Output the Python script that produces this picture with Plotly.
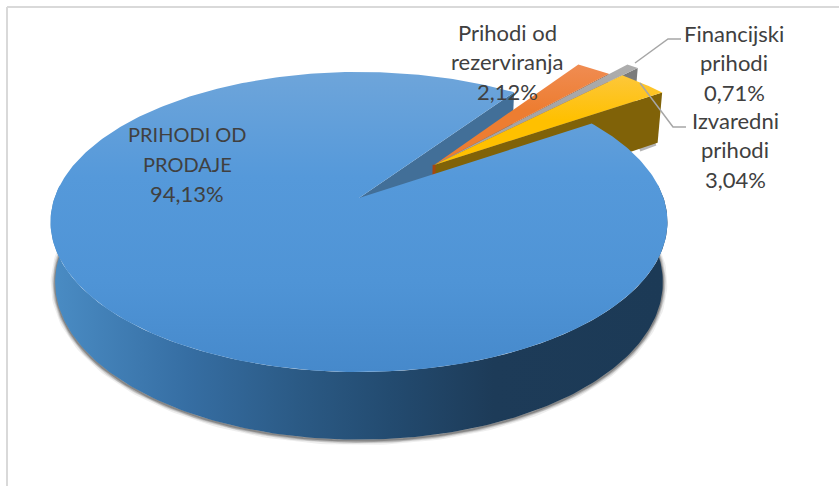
import numpy as np
import plotly.graph_objects as go

names = ["PRIHODI OD PRODAJE", "Prihodi od rezerviranja", "Financijski prihodi", "Izvaredni prihodi"]
values = [94.13, 2.12, 0.71, 3.04]

label_lines = [["PRIHODI OD", "PRODAJE"], ["Prihodi od", "rezerviranja"], ["Financijski", "prihodi"], ["Izvaredni", "prihodi"]]
label_x = [187, 507, 734, 735]
label_y = [134, 32, 33, 120]

top_colors = [None, ["#f08c52", "#ed7d31"], ["#adadad", "#a5a5a5"], ["#fdc73a", "#ffc000"]]
cut_colors = ["#426f98", "#a8470f", "#7b7b7b", "#806208"]
reach = [1.0, 1.02, 1.14, 1.045]

# perspective of the pie, in pixels of the page
cx, cy = 359, 198
rx, ry = 304.5, 146.2
persp = 0.16
depth = 59
bottom_scale = 0.985
first_angle = 56.3
explode = (0.256, -0.235)


def project(a, r=1.0, off=(0, 0), low=False, wall=1.0):
    a = np.radians(a)
    wx = off[0] + r * np.sin(a)
    wd = off[1] - r * np.cos(a)
    k = 1 - persp * wd
    sx = rx * wx / k
    sy = ry * wd / k
    if low:
        return cx + sx * bottom_scale, cy + sy * bottom_scale + depth * wall / k
    return cx + sx, cy + sy


def poly(fig, x, y, color=None, gradient=None):
    x = np.concatenate([np.atleast_1d(v) for v in x])
    y = np.concatenate([np.atleast_1d(v) for v in y])
    kw = dict(fillcolor=color) if color else dict(fillgradient=gradient)
    fig.add_trace(go.Scatter(x=x, y=y, mode="lines", fill="toself", line=dict(width=0),
                             hoverinfo="skip", showlegend=False, **kw))


fig = go.Figure()

spans = [v / sum(values) * 360 for v in values]
starts = [first_angle]
for s in spans[:-1]:
    starts.append((starts[-1] + s))
ends = [s + w for s, w in zip(starts, spans)]

# shadow under the outer wall
t = np.linspace(85, 275, 200)
sx, sy = project(t, low=True)
for w, alpha in zip([9, 6, 4, 2], [0.08, 0.14, 0.2, 0.3]):
    fig.add_trace(go.Scatter(x=sx, y=sy + 1, mode="lines", line=dict(width=w, color=f"rgba(40,40,40,{alpha})"),
                             hoverinfo="skip", showlegend=False))

# cut face of the big slice, seen through the gap
x0, y0 = project(ends[0])
xb, yb = project(ends[0], low=True)
xc, yc = project(0, 0, low=True)
poly(fig, [cx, x0, xb, xc], [cy, y0, yb, yc], color=cut_colors[0])

# shadow of the exploded yellow wall
xs, ys = project(ends[3], reach[3], explode, low=True, wall=0.93)
fig.add_trace(go.Scatter(x=[xs - 18, xs - 2], y=[ys + 7, ys + 1], mode="lines",
                         line=dict(width=4, color="rgba(40,40,40,0.35)"), hoverinfo="skip", showlegend=False))

# the three exploded slices, back to front
tx, ty = project(0, 0, explode)
lx, ly = project(0, 0, explode, low=True, wall=0.93)
for i in [1, 2, 3]:
    ex, ey = project(ends[i], reach[i], explode)
    bx, by = project(ends[i], reach[i], explode, low=True, wall=0.93)
    poly(fig, [tx, ex, bx, lx], [ty, ey, by, ly], color=cut_colors[i])

    a = np.linspace(starts[i], ends[i], 20)
    rimx, rimy = project(a, reach[i], explode)
    poly(fig, [tx, rimx], [ty, rimy], gradient=dict(
        type="vertical", colorscale=[[0, top_colors[i][0]], [1, top_colors[i][1]]],
        start=float(rimy.min()), stop=float(rimy.min()) + 45))

# red-brown sliver of the orange wall at the tip
fig.add_trace(go.Scatter(x=[tx, lx], y=[ty, ly], mode="lines", line=dict(width=3, color=cut_colors[1]),
                         hoverinfo="skip", showlegend=False))

# outer wall of the big slice
t = np.linspace(85, 275, 200)
ox, oy = project(t)
bx, by = project(t, low=True)
poly(fig, [ox, bx[::-1]], [oy, by[::-1]], gradient=dict(
    type="horizontal",
    colorscale=[[0, "#4a8cc4"], [0.22, "#366ea3"], [0.4, "#2b5a85"], [0.55, "#234b70"], [0.72, "#1d3b58"], [1, "#1c3a56"]],
    start=52, stop=666))

# top of the big slice
a = np.linspace(starts[0], ends[0], 400)
rimx, rimy = project(a)
poly(fig, [cx, rimx], [cy, rimy], gradient=dict(
    type="vertical",
    colorscale=[[0, "#6ea5da"], [0.35, "#5599da"], [0.7, "#4f94d6"], [1, "#4689cb"]],
    start=float(rimy.min()), stop=float(rimy.max())))

# labels, one text per line to keep the line pitch
line_pitch = 29.5
for i, lines in enumerate(label_lines):
    pct = f"{values[i]:.2f}%".replace(".", ",")
    for j, txt in enumerate(lines + [pct]):
        fig.add_annotation(x=label_x[i], y=label_y[i] + j * line_pitch, text=txt, showarrow=False,
                           xanchor="center", yanchor="middle",
                           font=dict(family="Lato", size=20 if txt.isupper() else 22, color="#404040"))

leader = dict(type="path", line=dict(color="#a6a6a6", width=1.5))
border = dict(type="line", line=dict(color="#d9d9d9", width=2))
fig.update_layout(
    width=839, height=486, margin=dict(l=0, r=0, t=0, b=0),
    paper_bgcolor="white", plot_bgcolor="white",
    xaxis=dict(range=[0, 839], visible=False, fixedrange=True),
    yaxis=dict(range=[486, 0], visible=False, fixedrange=True),
    shapes=[
        dict(leader, path="M 635 63 L 668 39 L 681 39"),
        dict(leader, path="M 640 83 L 673 127 L 686 127"),
        dict(border, x0=7, x1=7, y0=7, y1=486),
        dict(border, x0=7, x1=839, y0=7, y1=7),
    ],
)

fig.write_html("out.html", config=dict(displayModeBar=False),
               post_script="document.body.style.margin='0';document.body.style.overflow='hidden';")
